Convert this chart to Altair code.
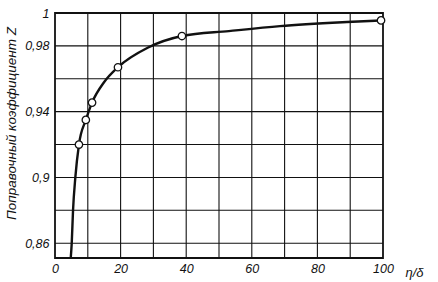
import altair as alt
import pandas as pd

# Measured points (circles)
pt_x = [7.3, 9.4, 11.3, 19.2, 38.7, 99.4]
pt_z = [0.920, 0.935, 0.9455, 0.967, 0.986, 0.9955]

# Curve
cv_x = [4.8, 5.1, 5.5, 6.2, 7.3, 9.4, 11.3, 15.0, 19.2, 28.4, 38.7, 53.0, 68.6, 89.0, 99.4]
cv_z = [0.851, 0.86, 0.88, 0.90, 0.920, 0.935, 0.9455, 0.958, 0.967, 0.979, 0.986, 0.989, 0.992, 0.9945, 0.9955]

x_grid = [10, 20, 30, 40, 50, 60, 70, 80, 90]
y_grid = [0.86, 0.88, 0.90, 0.92, 0.94, 0.96, 0.98]
x_labels = [0, 20, 40, 60, 80, 100]
y_labels = [0.86, 0.9, 0.94, 0.98, 1.0]

pts = pd.DataFrame({"x": pt_x, "z": pt_z})
crv = pd.DataFrame({"x": cv_x, "z": cv_z})
gx = pd.DataFrame({"x": x_grid})
gy = pd.DataFrame({"z": y_grid})

FONT = "Liberation Sans Narrow, Liberation Sans, DejaVu Sans"
INK = "#111111"

xs = alt.Scale(domain=[0, 100], nice=False, zero=False)
ys = alt.Scale(domain=[0.851, 1.0], nice=False, zero=False)

xaxis = alt.Axis(
    values=x_labels,
    title="η/δ",
    titleX=350, titleY=18, titleAlign="left", titleBaseline="alphabetic",
    titleFontStyle="italic", titleFontWeight="normal", titleFontSize=13,
    titleFont=FONT,
    ticks=False, labelPadding=4, domain=False, grid=False,
    labelOverlap=False, labelFlush=False, labelBound=False,
    labelFont=FONT, labelFontStyle="italic", labelFontSize=12.5, labelColor=INK,
    titleColor=INK,
)
yaxis = alt.Axis(
    values=y_labels,
    labelExpr="replace(format(datum.value, '.2~f'), '.', ',')",
    title="Поправочный коэффициент Z",
    titleFontStyle="italic", titleFontWeight="normal", titleFontSize=13.5,
    titleFont=FONT, titleX=-37, titleY=110, titleColor=INK,
    ticks=False, labelPadding=6, domain=False, grid=False,
    labelOverlap=False, labelFlush=False, labelBound=False,
    labelFont=FONT, labelFontStyle="italic", labelFontSize=12.5, labelColor=INK,
)

vgrid = alt.Chart(gx).mark_rule(color=INK, strokeWidth=1.1).encode(
    x=alt.X("x:Q", scale=xs, axis=xaxis)
)
hgrid = alt.Chart(gy).mark_rule(color=INK, strokeWidth=1.1).encode(
    y=alt.Y("z:Q", scale=ys, axis=yaxis)
)

line = alt.Chart(crv).mark_line(
    color=INK, strokeWidth=2.4, interpolate="monotone", clip=True
).encode(
    x=alt.X("x:Q", scale=xs),
    y=alt.Y("z:Q", scale=ys),
    order="x:Q",
)

points = alt.Chart(pts).mark_point(
    shape="circle", filled=True, fill="white", stroke=INK,
    strokeWidth=1.3, size=55, opacity=1
).encode(
    x=alt.X("x:Q", scale=xs),
    y=alt.Y("z:Q", scale=ys),
)

chart = alt.layer(vgrid, hgrid, line, points).properties(
    width=328, height=245,
    autosize=alt.AutoSizeParams(type="none"),
    padding={"left": 55, "top": 13, "right": 55, "bottom": 24},
    background="white",
).configure_view(
    stroke=INK, strokeWidth=1.8
)

chart.save("out.html", embed_options={"renderer": "svg", "actions": False})
